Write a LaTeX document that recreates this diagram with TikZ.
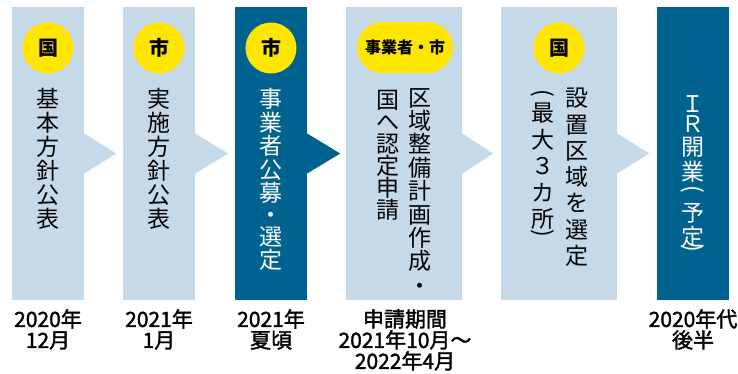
\documentclass[tikz,border=0pt]{standalone}
\usepackage{fontspec}
\setmainfont{Noto Sans CJK JP}
\newfontface\datefont{Noto Sans CJK JP}[FakeBold=1.6]
\usepackage{graphicx}
\usetikzlibrary{shapes}
\usetikzlibrary{positioning}

\definecolor{paleblue}{HTML}{C5D9E8}
\definecolor{deepblue}{HTML}{00638F}
\definecolor{badgeyellow}{HTML}{FFE600}

\newcommand{\vparen}[1]{\rotatebox[origin=c]{-90}{#1}}

\tikzset{
  stage/.style={rectangle, minimum width=72pt, minimum height=293pt, inner sep=0pt},
  wide stage/.style={stage, minimum width=116pt},
  badge/.style={circle, fill=badgeyellow, minimum size=51pt, inner sep=0pt,
    font=\bfseries\fontsize{20}{20}\selectfont},
  vtext/.style={anchor=north, align=center, inner sep=0pt,
    font=\fontsize{23}{#1}\selectfont},
  vtext/.default=24,
  vchar/.style={anchor=base, inner sep=0pt, text=white,
    font=\fontsize{23}{23}\selectfont},
  date/.style={anchor=north, align=center, inner sep=0pt,
    font=\datefont\fontsize{21}{21}\selectfont}
}

\begin{document}
\begin{tikzpicture}[x=1pt, y=-1pt]
    \useasboundingbox (0,0) rectangle (738,373);

    % the six stages
    \node [stage, fill=paleblue] (kihon) at (48,153.5) {};
    \node [stage, fill=paleblue] (jisshi) at (159,153.5) {};
    \node [stage, fill=deepblue] (koubo) at (271,153.5) {};
    \node [wide stage, fill=paleblue] (shinsei) at (404,153.5) {};
    \node [wide stage, fill=paleblue] (sentei) at (559,153.5) {};
    \node [stage, fill=deepblue] (kaigyo) at (693,153.5) {};

    % chevrons between stages
    \fill [paleblue] ([yshift=20pt]kihon.east) -- ++(32pt,-20pt) -- ++(-32pt,-20pt) -- cycle;
    \fill [paleblue] ([yshift=20pt]jisshi.east) -- ++(33pt,-20pt) -- ++(-33pt,-20pt) -- cycle;
    \fill [deepblue] ([yshift=20pt]koubo.east) -- ++(33pt,-20pt) -- ++(-33pt,-20pt) -- cycle;
    \fill [paleblue] ([yshift=20pt]shinsei.east) -- ++(31pt,-20pt) -- ++(-31pt,-20pt) -- cycle;
    \fill [paleblue] ([yshift=20pt]sentei.east) -- ++(32pt,-20pt) -- ++(-32pt,-20pt) -- cycle;

    % who is in charge
    \node [badge] (kihon-who) at (48,48) {国};
    \node [badge] (jisshi-who) at (159,48) {市};
    \node [badge] (koubo-who) at (271,48) {市};
    \node [badge, rounded rectangle, minimum width=96pt, font=\bfseries\fontsize{16}{16}\selectfont] (shinsei-who) at (405,47.5) {事業者・市};
    \node [badge] (sentei-who) at (559,48) {国};

    % vertical texts
    \node [vtext] (kihon-text) at (48,88) {基\\本\\方\\針\\公\\表};
    \node [vtext] (jisshi-text) at (159,88) {実\\施\\方\\針\\公\\表};
    \node [vtext=23.5, text=white] (koubo-text) at (271,88) {事\\業\\者\\公\\募\\[-2pt]・\\[-1.5pt]選\\定};
    \node [vtext=23.4] (shinsei-text) at (420,88) {区\\域\\整\\備\\計\\画\\作\\成\\[1pt]・};
    \node [vtext=22] (shinsei-text2) at (388,90) {国\\へ\\認\\定\\申\\請};
    \node [vtext=26.3] (sentei-text) at (577,88) {設\\置\\区\\域\\を\\選\\定};
    \node [vtext=26.5] (sentei-text2) at (543,89) {\vparen{(}\\[-5pt]最\\大\\３\\カ\\所\\[-14pt]\vparen{)}};

    % IR opening, one glyph at a time
    \node [vchar] (kaigyo-i) at (693,112) {Ｉ};
    \node [vchar] (kaigyo-r) at (693,132) {Ｒ};
    \node [vchar] (kaigyo-kai) at (693,155) {開};
    \node [vchar] (kaigyo-gyo) at (693,180) {業};
    \node [vchar, anchor=center] (kaigyo-open) at (693,191) {\vparen{(}};
    \node [vchar] (kaigyo-yo) at (693,221) {予};
    \node [vchar] (kaigyo-tei) at (693,245) {定};
    \node [vchar, anchor=center] (kaigyo-close) at (693,250) {\vparen{)}};

    % dates
    \node [date] (kihon-date) at (48,309) {2020年\\12月};
    \node [date] (jisshi-date) at (159,309) {2021年\\1月};
    \node [date] (koubo-date) at (271,309) {2021年\\夏頃};
    \node [date] (shinsei-date) at (405,309) {申請期間\\2021年10月〜\\2022年4月};
    \node [date] (kaigyo-date) at (693,309) {2020年代\\後半};

\end{tikzpicture}
\end{document}
